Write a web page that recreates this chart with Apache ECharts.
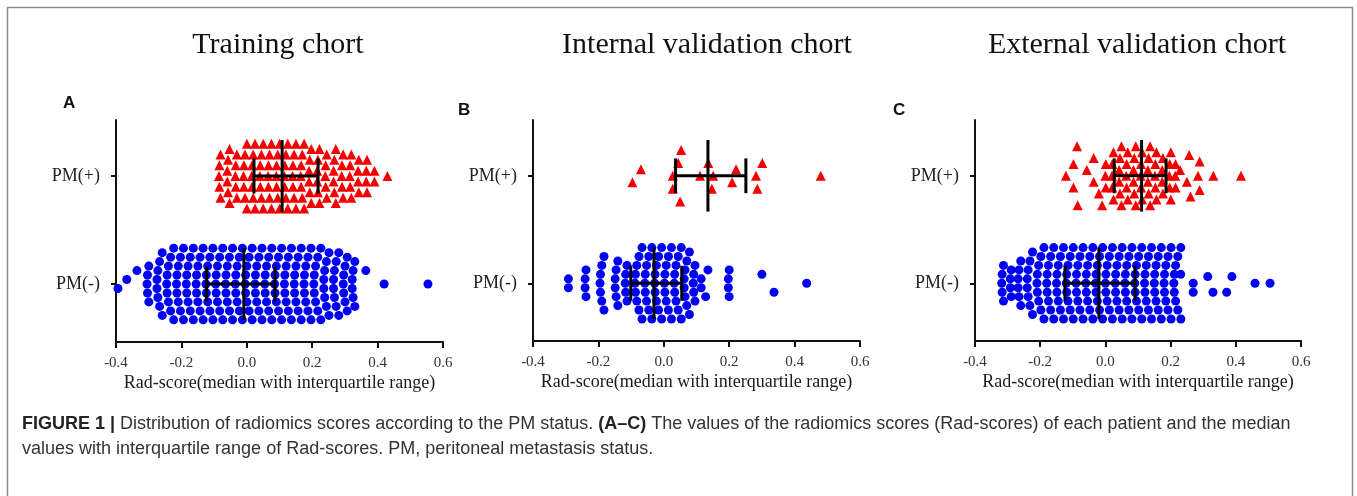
<!DOCTYPE html>
<html lang="en">
<head>
  <meta charset="UTF-8">
  <title>Rad-score distribution by PM status</title>
  <script src="https://cdn.jsdelivr.net/npm/echarts@6/dist/echarts.min.js"></script>
  <style>
    html, body { margin: 0; padding: 0; background: #fff; }
    #chart { width: 1357px; height: 496px; }
  </style>
</head>
<body>
  <div id="chart"></div>
  <script>
    // ---- data ----
    var titles = ['Training chort', 'Internal validation chort', 'External validation chort'];
    var panelTags = ['A', 'B', 'C'];
    var groupNames = ['PM(-)', 'PM(+)'];   // drawn at y = 1 and y = 2
    var xTicks = [-0.4, -0.2, 0.0, 0.2, 0.4, 0.6];
    var xName = 'Rad-score(median with interquartile range)';

    // dot columns: [rad-score, patients stacked, optional shift in half steps (up = +)]
    var trainNeg = [
      [-0.394, 1, -1], [-0.367, 1, 1], [-0.336, 1, 3], [-0.305, 5], [-0.275, 8], [-0.245, 9],
      [-0.215, 9], [-0.185, 9], [-0.155, 9], [-0.125, 9], [-0.095, 9], [-0.065, 9],
      [-0.035, 9], [-0.005, 9], [0.025, 9], [0.055, 9], [0.085, 9], [0.115, 9], [0.145, 9],
      [0.175, 9], [0.205, 9], [0.235, 8], [0.265, 8], [0.295, 7], [0.322, 6],
      [0.364, 1, 3], [0.42, 1], [0.554, 1]
    ];
    var trainPos = [
      [-0.085, 5], [-0.06, 6], [-0.035, 5], [-0.01, 7], [0.015, 7], [0.04, 7], [0.065, 7],
      [0.09, 7], [0.115, 7], [0.14, 7], [0.165, 7], [0.19, 6], [0.215, 6], [0.24, 5],
      [0.265, 6], [0.29, 5], [0.315, 5], [0.34, 4], [0.365, 4], [0.39, 2], [0.43, 1]
    ];
    var internalNeg = [
      [-0.292, 2], [-0.241, 4], [-0.195, 7], [-0.149, 6], [-0.118, 5], [-0.088, 9],
      [-0.058, 9], [-0.028, 9], [0.002, 9], [0.032, 9], [0.062, 8], [0.09, 5],
      [0.114, 2], [0.135, 1, 3], [0.128, 1, -3],
      [0.197, 4], [0.30, 1, 2], [0.337, 1, -2], [0.437, 1]
    ];
    var internalPos = [
      [-0.096, 1, -1], [-0.070, 1, 1], [0.027, 2, -1], [0.044, 1, 2], [0.053, 1, 4],
      [0.050, 1, -4], [0.111, 1, 0], [0.136, 1, 2], [0.151, 1, 0], [0.147, 1, -2],
      [0.209, 1, -1], [0.221, 1, 1], [0.282, 1, 0], [0.286, 1, -2], [0.301, 1, 2], [0.48, 1]
    ];
    var externalNeg = [
      [-0.318, 5], [-0.292, 4], [-0.268, 6], [-0.24, 8], [-0.21, 9], [-0.18, 9],
      [-0.15, 9], [-0.12, 9], [-0.09, 9], [-0.06, 9], [-0.03, 9], [0.0, 9],
      [0.03, 9], [0.06, 9], [0.09, 9], [0.12, 9], [0.15, 9], [0.18, 9], [0.21, 9],
      [0.231, 1, 2], [0.269, 2, -1], [0.314, 1, 1.5],
      [0.33, 1, -2], [0.372, 1, -2], [0.388, 1, 1.5], [0.459, 1], [0.505, 1]
    ];
    var externalPos = [
      [-0.121, 1], [-0.098, 1, 2], [-0.098, 1, -2], [-0.087, 1, 5], [-0.085, 1, -5],
      [-0.057, 1, 1], [-0.036, 1, 3], [-0.036, 1, -1], [-0.02, 1, -3], [-0.01, 1, -5],
      [0.0, 3], [0.02, 5], [0.042, 6], [0.064, 5], [0.086, 6], [0.108, 5], [0.13, 6],
      [0.152, 5], [0.174, 4], [0.196, 5], [0.214, 3],
      [0.229, 1, 1], [0.25, 1, -1], [0.257, 1, 3.5], [0.261, 1, -3.5], [0.284, 1],
      [0.289, 1, 2.4], [0.289, 1, -2.4], [0.331, 1], [0.416, 1]
    ];

    // [median, Q1, Q3]
    var trainNegStat = [-0.009, -0.123, 0.086];
    var trainPosStat = [0.108, 0.022, 0.218];
    var internalNegStat = [-0.03, -0.101, 0.055];
    var internalPosStat = [0.135, 0.036, 0.251];
    var externalNegStat = [-0.02, -0.124, 0.091];
    var externalPosStat = [0.111, 0.027, 0.186];

    // ---- layout ----
    var grids = [
      { left: 116, top: 120, width: 327, height: 222 },
      { left: 533, top: 120, width: 327, height: 221 },
      { left: 975, top: 120, width: 326, height: 221 }
    ];
    var titleX = [278, 707, 1137];
    var tagPos = [[63, 103], [458, 110], [893, 110]];
    var serif = '"Liberation Serif", "DejaVu Serif", serif';
    var sans = '"Liberation Sans", Arial, sans-serif';

    // turn dot columns into scatter points around the group line
    function swarm(cols, base, step, bend) {
      var out = [];
      cols.forEach(function (c) {
        var n = c[1], shift = c[2] || 0;
        for (var i = 0; i < n; i++) {
          var k = i - (n - 1) / 2;
          out.push({
            value: [c[0], base + (k + shift / 2) * step],
            symbolOffset: [bend * (k / 4) * (k / 4), 0]
          });
        }
      });
      return out;
    }

    function errorBars(stats) {
      return {
        type: 'custom',
        z: 5,
        silent: true,
        renderItem: function (params, api) {
          var y = api.value(3);
          var med = api.value(0), q1 = api.value(1), q3 = api.value(2);
          var st = { stroke: '#000', lineWidth: 3 };
          function seg(a, b) {
            return { type: 'line', shape: { x1: a[0], y1: a[1], x2: b[0], y2: b[1] }, style: st };
          }
          return {
            type: 'group',
            children: [
              seg(api.coord([q1, y]), api.coord([q3, y])),
              seg(api.coord([med, y - 0.333]), api.coord([med, y + 0.333])),
              seg(api.coord([q1, y - 0.162]), api.coord([q1, y + 0.162])),
              seg(api.coord([q3, y - 0.162]), api.coord([q3, y + 0.162]))
            ]
          };
        },
        data: stats
      };
    }

    var panels = [
      { neg: trainNeg, pos: trainPos, negStat: trainNegStat, posStat: trainPosStat, posStep: 0.1 },
      { neg: internalNeg, pos: internalPos, negStat: internalNegStat, posStat: internalPosStat, posStep: 0.12 },
      { neg: externalNeg, pos: externalPos, negStat: externalNegStat, posStat: externalPosStat, posStep: 0.11 }
    ];

    var option = {
      animation: false,
      backgroundColor: '#fff',
      grid: [], xAxis: [], yAxis: [], series: [],
      graphic: []
    };

    panels.forEach(function (p, i) {
      option.grid.push(grids[i]);
      option.xAxis.push({
        gridIndex: i,
        type: 'value',
        min: xTicks[0],
        max: xTicks[xTicks.length - 1],
        interval: 0.2,
        name: xName,
        nameLocation: 'middle',
        nameGap: 32,
        nameTextStyle: { fontFamily: serif, fontSize: 18, color: '#1a1a1a' },
        axisLine: { show: true, onZero: false, lineStyle: { color: '#111', width: 2 } },
        axisTick: { show: true, length: 6, lineStyle: { color: '#111', width: 2 } },
        axisLabel: {
          fontFamily: serif, fontSize: 15, color: '#333', margin: 14,
          formatter: function (v) { return v.toFixed(1); }
        },
        splitLine: { show: false }
      });
      option.yAxis.push({
        gridIndex: i,
        type: 'value',
        min: 0.463,
        max: 2.519,
        axisLine: { show: true, onZero: false, lineStyle: { color: '#111', width: 2 } },
        axisTick: { show: true, length: 5, customValues: [1, 2], lineStyle: { color: '#111', width: 2 } },
        axisLabel: {
          customValues: [1, 2],
          fontFamily: serif, fontSize: 18, color: '#222', margin: 16,
          formatter: function (v) { return groupNames[Math.round(v) - 1]; }
        },
        splitLine: { show: false }
      });
      option.series.push({
        type: 'scatter',
        xAxisIndex: i, yAxisIndex: i,
        symbol: 'circle',
        symbolSize: 9,
        itemStyle: { color: '#0000f5', opacity: 1 },
        data: swarm(p.neg, 1, 0.083, 7)
      });
      option.series.push({
        type: 'scatter',
        xAxisIndex: i, yAxisIndex: i,
        symbol: 'triangle',
        symbolSize: 10,
        itemStyle: { color: '#f50000', opacity: 1 },
        data: swarm(p.pos, 2, p.posStep, 6)
      });
      var eb = errorBars([p.negStat.concat([1]), p.posStat.concat([2])]);
      eb.xAxisIndex = i;
      eb.yAxisIndex = i;
      option.series.push(eb);

      option.graphic.push({
        type: 'text', x: titleX[i], y: 45,
        style: { text: titles[i], font: '30px ' + serif, fill: '#111', align: 'center', verticalAlign: 'middle' }
      });
      option.graphic.push({
        type: 'text', x: tagPos[i][0], y: tagPos[i][1],
        style: { text: panelTags[i], font: 'bold 17px ' + sans, fill: '#111', verticalAlign: 'middle' }
      });
    });

    // frame and caption
    option.graphic.push({
      type: 'rect', silent: true,
      shape: { x: 7.5, y: 7.5, width: 1345, height: 500 },
      style: { fill: null, stroke: '#8a8a8a', lineWidth: 1.5 }
    });
    option.graphic.push({
      type: 'text', x: 22, y: 424,
      style: {
        text: '{b|FIGURE 1 |} Distribution of radiomics scores according to the PM status. {b|(A\u2013C)} The values of the radiomics scores (Rad-scores) of each patient and the median',
        font: '18px ' + sans, fill: '#333', verticalAlign: 'middle',
        rich: { b: { fontWeight: 'bold', fontFamily: sans, fontSize: 18, fill: '#222' } }
      }
    });
    option.graphic.push({
      type: 'text', x: 22, y: 449,
      style: {
        text: 'values with interquartile range of Rad-scores. PM, peritoneal metastasis status.',
        font: '18px ' + sans, fill: '#333', verticalAlign: 'middle'
      }
    });

    var chart = echarts.init(document.getElementById('chart'));
    chart.setOption(option);
  </script>
</body>
</html>
